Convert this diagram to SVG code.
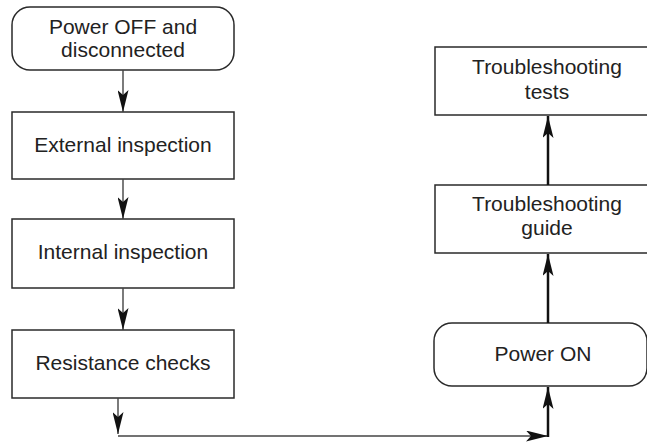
<svg xmlns="http://www.w3.org/2000/svg" width="647" height="442" viewBox="0 0 647 442">
<style>
.box{fill:#fff;stroke:#2a2a2a;stroke-width:1.5}
.t{font-family:"Liberation Sans",Arial,sans-serif;font-size:21px;fill:#222;text-anchor:middle}
.thin{stroke:#444;stroke-width:1.4;fill:none}
.thick{stroke:#111;stroke-width:2.5;fill:none}
</style>
<defs>
<marker id="ah" markerUnits="userSpaceOnUse" markerWidth="22" markerHeight="11" refX="22" refY="5.5" viewBox="0 0 22 11" orient="auto">
<path d="M0,0 L22,5.5 L0,11 L5,5.5 Z" fill="#111"/>
</marker>
</defs>
<rect width="647" height="442" fill="#fff"/>
<g id="n1"><rect class="box" x="12" y="7" width="222" height="63" rx="18"/><text class="t" x="123" y="34">Power OFF and</text><text class="t" x="123" y="57">disconnected</text></g>
<g id="n2"><rect class="box" x="12" y="112" width="222" height="67"/><text class="t" x="123" y="152">External inspection</text></g>
<g id="n3"><rect class="box" x="12" y="219" width="222" height="69"/><text class="t" x="123" y="259">Internal inspection</text></g>
<g id="n4"><rect class="box" x="12" y="330" width="222" height="68"/><text class="t" x="123" y="370">Resistance checks</text></g>
<g id="n5"><rect class="box" x="434" y="323" width="213" height="63" rx="18"/><text class="t" x="543" y="361">Power ON</text></g>
<g id="n6"><rect class="box" x="435" y="185" width="215" height="68"/><text class="t" x="547" y="211">Troubleshooting</text><text class="t" x="547" y="235">guide</text></g>
<g id="n7"><rect class="box" x="435" y="47" width="215" height="68"/><text class="t" x="547" y="74">Troubleshooting</text><text class="t" x="547" y="99">tests</text></g>
<g id="connectors">
<line class="thin" x1="123" y1="70" x2="123" y2="112" marker-end="url(#ah)"/>
<line class="thin" x1="123" y1="179" x2="123" y2="219" marker-end="url(#ah)"/>
<line class="thin" x1="123" y1="288" x2="123" y2="330" marker-end="url(#ah)"/>
<line class="thin" x1="118" y1="398" x2="118" y2="434" marker-end="url(#ah)"/>
<line class="thin" x1="118" y1="436" x2="548" y2="436" marker-end="url(#ah)"/>
<line class="thick" x1="548" y1="437" x2="548" y2="387" marker-end="url(#ah)"/>
<line class="thick" x1="548" y1="323" x2="548" y2="254" marker-end="url(#ah)"/>
<line class="thick" x1="548" y1="185" x2="548" y2="116" marker-end="url(#ah)"/>
</g>
</svg>
